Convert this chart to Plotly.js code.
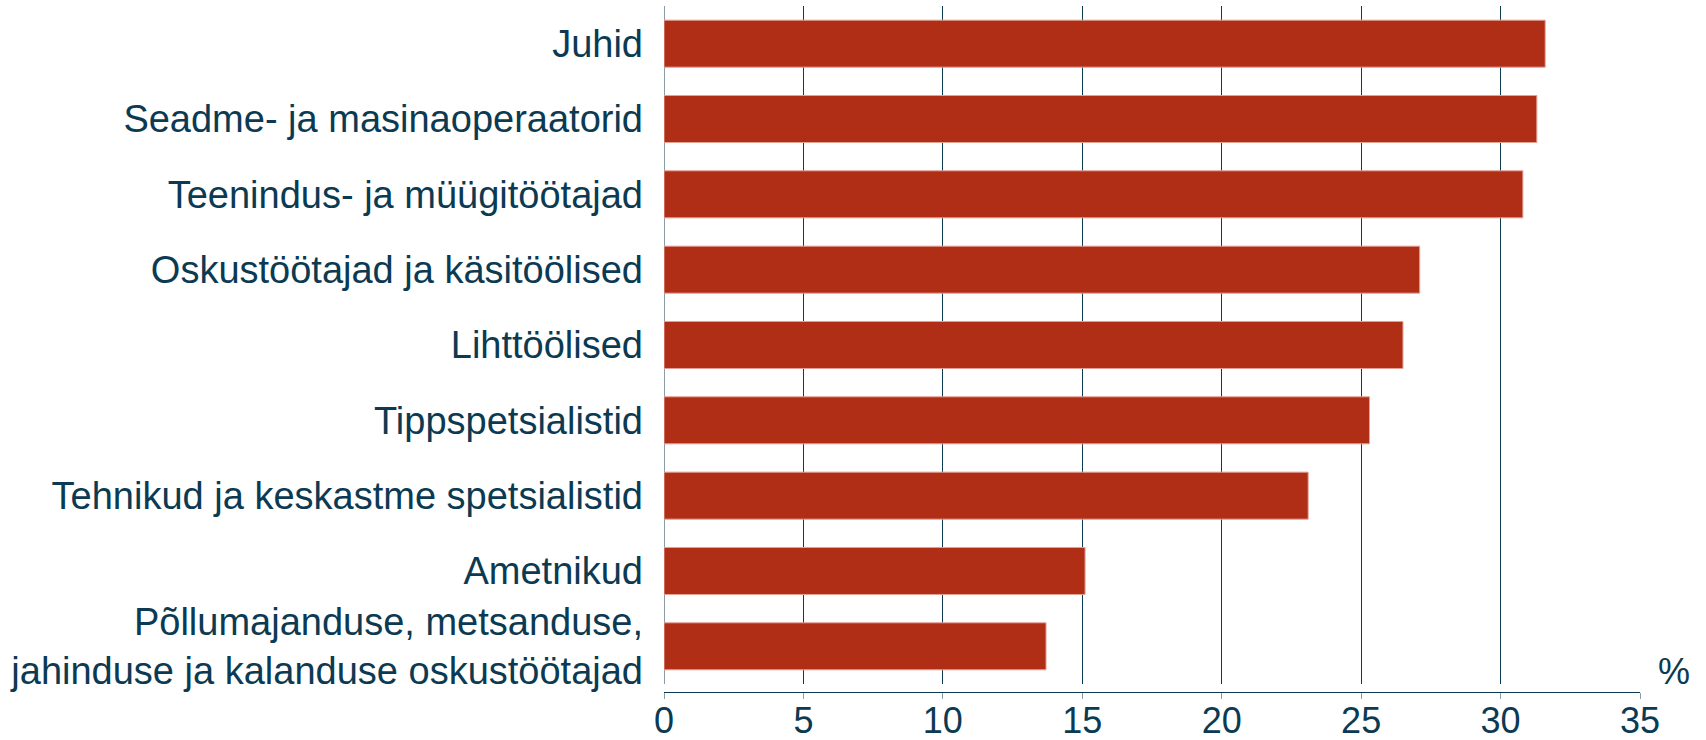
<!DOCTYPE html>
<html>
<head>
<meta charset="utf-8">
<script src="https://cdn.plot.ly/plotly-3.0.1.min.js"></script>
<style>
  html, body { margin: 0; padding: 0; background: #ffffff; }
  #chart { width: 1706px; height: 740px; }
</style>
</head>
<body>
<div id="chart"></div>
<script>
const categories = [
  "Juhid",
  "Seadme- ja masinaoperaatorid",
  "Teenindus- ja müügitöötajad",
  "Oskustöötajad ja käsitöölised",
  "Lihttöölised",
  "Tippspetsialistid",
  "Tehnikud ja keskastme spetsialistid",
  "Ametnikud",
  "Põllumajanduse, metsanduse,<br>jahinduse ja kalanduse oskustöötajad"
];
const values = [31.6, 31.3, 30.8, 27.1, 26.5, 25.3, 23.1, 15.1, 13.7];
const xTicks = [0, 5, 10, 15, 20, 25, 30, 35];
const unitLabel = "%";

const textColor = "#0b3a52";
const barColor = "#b02e16";

const trace = {
  type: "bar",
  orientation: "h",
  x: values,
  y: categories,
  marker: { color: barColor, line: { color: "#e3a196", width: 1 } },
  hoverinfo: "x+y"
};

const layout = {
  width: 1706,
  height: 740,
  margin: { l: 664, r: 66, t: 6, b: 48 },
  paper_bgcolor: "#ffffff",
  plot_bgcolor: "#ffffff",
  showlegend: false,
  bargap: 0.376,
  font: { family: "Liberation Sans, Arial, sans-serif", color: textColor },
  xaxis: {
    range: [0, 35],
    tickvals: xTicks,
    ticktext: xTicks.map(String),
    anchor: "free",
    position: 0,
    showgrid: true,
    gridcolor: textColor,
    gridwidth: 1,
    zeroline: true,
    zerolinecolor: "#8a9ca6",
    zerolinewidth: 1,
    showline: true,
    linecolor: textColor,
    linewidth: 1,
    ticks: "outside",
    ticklen: 6,
    tickcolor: "#8a9ca6",
    tickwidth: 1,
    ticklabelstandoff: -9,
    tickfont: { size: 36, color: textColor },
    fixedrange: true
  },
  yaxis: {
    domain: [0.0117, 1],
    autorange: "reversed",
    type: "category",
    showgrid: false,
    zeroline: false,
    showline: false,
    ticks: "",
    ticklabelstandoff: 20,
    tickfont: { size: 38, color: textColor },
    fixedrange: true
  },
  annotations: [
    {
      text: unitLabel,
      xref: "paper",
      yref: "paper",
      x: 1,
      y: 0.0117,
      xanchor: "left",
      yanchor: "middle",
      xshift: 16,
      yshift: 12,
      showarrow: false,
      font: { size: 36, color: textColor }
    }
  ]
};

Plotly.newPlot("chart", [trace], layout, { displayModeBar: false, staticPlot: true });
</script>
</body>
</html>
